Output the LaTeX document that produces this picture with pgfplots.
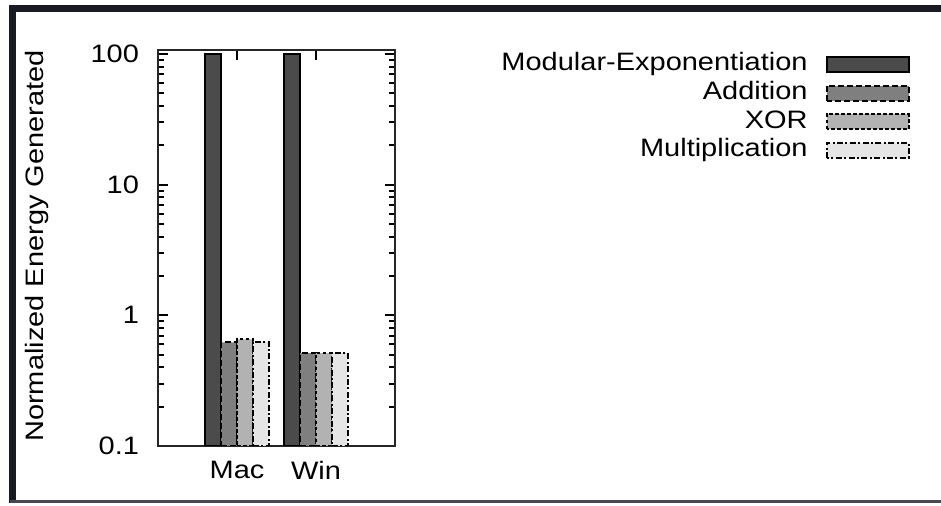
\documentclass[border=0pt]{standalone}
\usepackage{fontspec}
\setmainfont{Liberation Sans}[FakeStretch=1.15]
\usepackage{pgfplots}
\pgfplotsset{compat=1.18}
\definecolor{cME}{HTML}{4B4B4B}
\definecolor{cAD}{HTML}{7F7F7F}
\definecolor{cXO}{HTML}{B2B2B2}
\definecolor{cMU}{HTML}{E5E5E5}
\definecolor{frame}{HTML}{1A1A24}
\begin{document}
\begin{tikzpicture}[font=\fontsize{12.6pt}{14pt}\selectfont]
\useasboundingbox (0,0) rectangle (470.5pt,253pt);
\fill[white] (0,0) rectangle (470.5pt,253pt);
\draw[frame, line width=3.5pt] (6.25pt,1.5pt) -- (6.25pt,248.5pt) -- (470.5pt,248.5pt);
\draw[frame!80, line width=1.5pt] (5pt,2pt) -- (470.5pt,2pt);
\begin{axis}[
  at={(79pt,30pt)}, anchor=south west,
  scale only axis, width=118.5pt, height=198pt,
  ybar=0pt, bar width=0.2,
  ymode=log, log origin=infty,
  ymin=0.1, ymax=107.3,
  xmin=-1, xmax=2,
  xtick={0,1}, xticklabels={Mac,Win},
  ytick={0.1,1,10,100}, yticklabels={0.1,1,10,100},
  minor ytick={0.2,0.3,0.4,0.5,0.6,0.7,0.8,0.9,2,3,4,5,6,7,8,9,20,30,40,50,60,70,80,90},
  tick align=inside,
  major tick length=5pt, minor tick length=3pt,
  every tick/.style={black, line width=1pt},
  axis line style={black!85, line width=1pt},
  yticklabel style={xshift=-6pt},
  xticklabel style={yshift=-4pt},
  ylabel={Normalized Energy Generated},
  ylabel style={at={(axis description cs:-0.511,0.505)}, anchor=center},
  legend image code/.code={\draw[#1] (0pt,-3.8pt) rectangle (41pt,3.8pt);},
  legend style={at={(axis description cs:3.173,1)}, anchor=north east,
    draw=none, fill=none, legend plot pos=right, legend cell align=right,
    row sep=0pt, column sep=8pt, inner sep=0pt,
    nodes={inner sep=1pt, text height=9.3pt, text depth=3pt}},
]
\addplot[draw=black, fill=cME, line width=1pt] coordinates {(0,100) (1,100)};
\addplot[draw=black, fill=cAD, line width=1pt, dash pattern=on 3pt off 1.5pt] coordinates {(0,0.622) (1,0.513)};
\addplot[draw=black, fill=cXO, line width=1pt, dash pattern=on 1.8pt off 1.2pt] coordinates {(0,0.656) (1,0.513)};
\addplot[draw=black, fill=cMU, line width=1pt, dash pattern=on 3pt off 1.2pt on 1pt off 1.2pt] coordinates {(0,0.630) (1,0.513)};
\legend{Modular-Exponentiation,Addition,XOR,Multiplication}
\end{axis}
\end{tikzpicture}
\end{document}
